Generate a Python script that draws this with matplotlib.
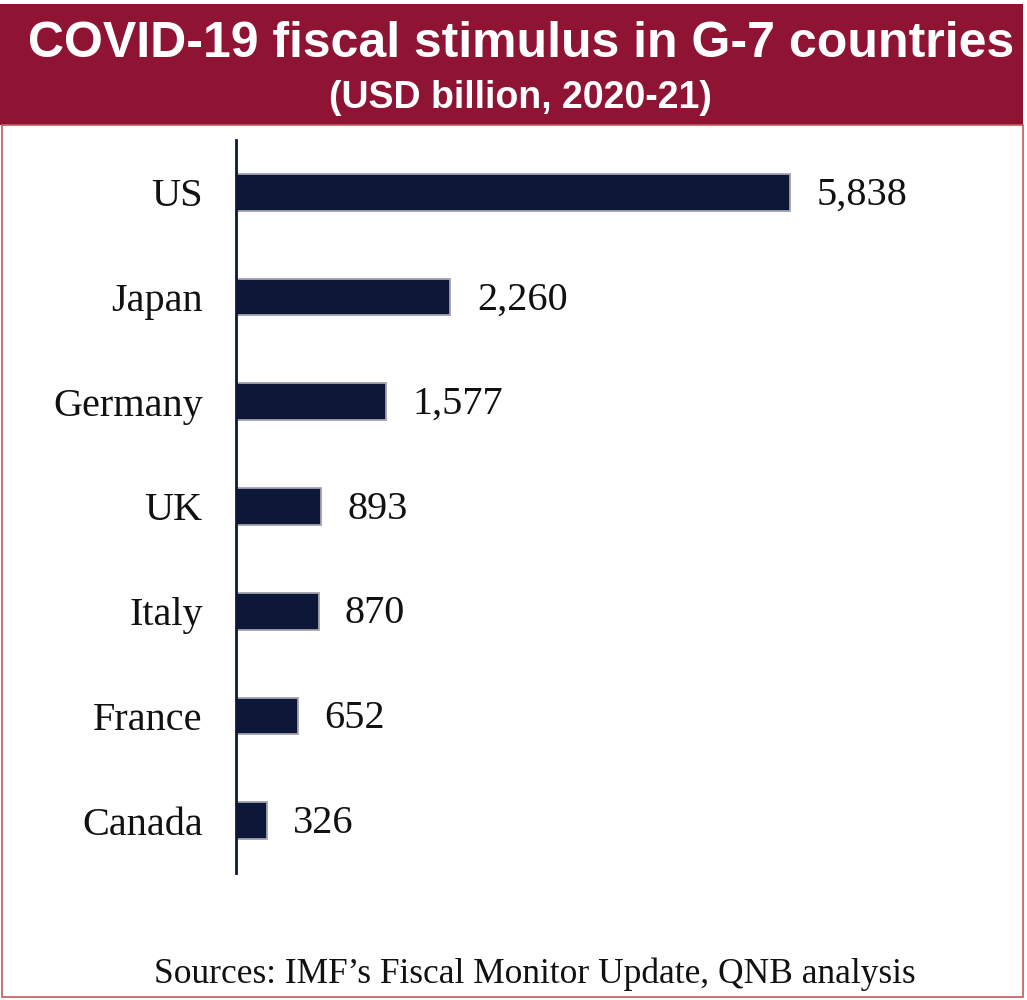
import matplotlib
matplotlib.use("Agg")
import matplotlib.pyplot as plt
from matplotlib.patches import Rectangle

countries = ["US", "Japan", "Germany", "UK", "Italy", "France", "Canada"]
values = [5838, 2260, 1577, 893, 870, 652, 326]
value_labels = ["5,838", "2,260", "1,577", "893", "870", "652", "326"]

title = "COVID-19 fiscal stimulus in G-7 countries"
subtitle = "(USD billion, 2020-21)"
source = "Sources: IMF\u2019s Fiscal Monitor Update, QNB analysis"

RED = "#8F1434"
NAVY = "#0D1838"
SERIF = "Liberation Serif"
SANS = ["Liberation Sans", "DejaVu Sans"]

fig = plt.figure(figsize=(10.27, 10.0), dpi=100)
fig.patch.set_facecolor("white")

# header band
fig.patches.append(Rectangle((0, 0.875), 1023 / 1027, 0.121, transform=fig.transFigure,
                             facecolor=RED, edgecolor="none", zorder=0))
# panel border
fig.patches.append(Rectangle((1.5 / 1027, 3 / 1000), 1021 / 1027, 0.872, transform=fig.transFigure,
                             facecolor="none", edgecolor="#C45A5A", linewidth=1.2, zorder=0))

fig.text(0.507, 0.943, title, ha="center", va="baseline", color="white",
         fontsize=36, fontweight="bold", family=SANS)
fig.text(0.507, 0.892, subtitle, ha="center", va="baseline", color="white",
         fontsize=27, fontweight="bold", family=SANS)

ax = fig.add_axes([236 / 1027, 0.127, (995 - 236) / 1027, 0.733])
y = list(range(len(countries)))
ax.barh(y, values, height=0.35, color=NAVY, edgecolor="#A2A4AE", linewidth=1.3, zorder=2)
ax.set_xlim(0, 8000)
ax.set_ylim(len(countries) - 0.5, -0.5)
ax.set_yticks(y)
ax.set_yticklabels(countries, fontsize=29, family=SERIF, color="#111111")
ax.set_xticks([])
ax.tick_params(axis="y", length=0, pad=24)
for s in ["top", "right", "bottom"]:
    ax.spines[s].set_visible(False)
ax.spines["left"].set_color(NAVY)
ax.spines["left"].set_linewidth(2)
for yi, v, lab in zip(y, values, value_labels):
    ax.annotate(lab, (v, yi), xytext=(19, -2), textcoords="offset points",
                ha="left", va="center", fontsize=29, family=SERIF, color="#111111")

fig.text(0.521, 0.017, source, ha="center", va="baseline", fontsize=25.5,
         family=SERIF, color="#111111")

fig.savefig("out.png", dpi=100)
